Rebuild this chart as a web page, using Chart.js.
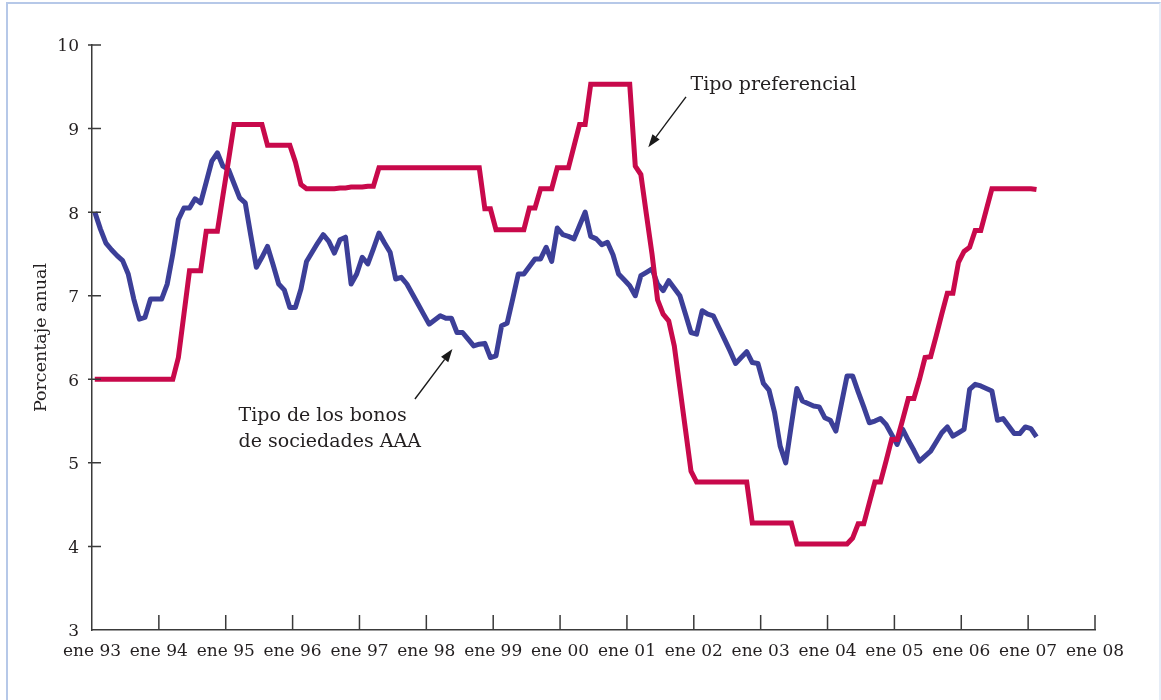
<!DOCTYPE html>
<html><head><meta charset="utf-8">
<script src="https://cdn.jsdelivr.net/npm/chart.js@4.4.1/dist/chart.umd.min.js"></script>
<style>
html,body{margin:0;padding:0;background:#fff;}
#wrap{position:relative;width:1161px;height:700px;overflow:hidden;background:#fff;}
#frame{position:absolute;left:6px;top:2px;width:1151px;height:720px;border-left:2px solid #b6c8e8;border-top:2px solid #b6c8e8;border-right:2px solid #e6edf7;box-sizing:content-box;}
canvas{position:absolute;left:0;top:0;}
</style></head>
<body><div id="wrap"><div id="frame"></div><canvas id="c" width="1161" height="700"></canvas></div>
<script>
// Tick labels of the x axis (one per January, 1993-2008)
const yearLabels = ['ene 93','ene 94','ene 95','ene 96','ene 97','ene 98','ene 99','ene 00',
                    'ene 01','ene 02','ene 03','ene 04','ene 05','ene 06','ene 07','ene 08'];
const yTicks = [3,4,5,6,7,8,9,10];

// Monthly values, Jan 1993 - Feb 2007
const primeRate = [
 6.00,6.00,6.00,6.00,6.00,6.00,6.00,6.00,6.00,6.00,6.00,6.00, // 1993
 6.00,6.00,6.00,6.26,6.78,7.30,7.30,7.30,7.77,7.77,7.77,8.20, // 1994
 8.62,9.05,9.05,9.05,9.05,9.05,9.05,8.80,8.80,8.80,8.80,8.80, // 1995
 8.60,8.33,8.28,8.28,8.28,8.28,8.28,8.28,8.29,8.29,8.30,8.30, // 1996
 8.30,8.31,8.31,8.53,8.53,8.53,8.53,8.53,8.53,8.53,8.53,8.53, // 1997
 8.53,8.53,8.53,8.53,8.53,8.53,8.53,8.53,8.53,8.53,8.04,8.04, // 1998
 7.79,7.79,7.79,7.79,7.79,7.79,8.05,8.05,8.28,8.28,8.28,8.53, // 1999
 8.53,8.53,8.79,9.05,9.05,9.53,9.53,9.53,9.53,9.53,9.53,9.53, // 2000
 9.53,8.55,8.45,7.97,7.50,6.95,6.78,6.70,6.40,5.90,5.40,4.90, // 2001
 4.77,4.77,4.77,4.77,4.77,4.77,4.77,4.77,4.77,4.77,4.28,4.28, // 2002
 4.28,4.28,4.28,4.28,4.28,4.28,4.03,4.03,4.03,4.03,4.03,4.03, // 2003
 4.03,4.03,4.03,4.03,4.10,4.27,4.27,4.52,4.77,4.77,5.02,5.28, // 2004
 5.28,5.52,5.77,5.77,6.00,6.26,6.27,6.52,6.78,7.03,7.03,7.40, // 2005
 7.53,7.58,7.78,7.78,8.03,8.28,8.28,8.28,8.28,8.28,8.28,8.28, // 2006
 8.28,8.27                                                    // 2007
];
const aaaBondRate = [
 8.00,7.80,7.63,7.55,7.48,7.42,7.26,6.96,6.72,6.74,6.96,6.96, // 1993
 6.96,7.14,7.50,7.91,8.05,8.05,8.16,8.11,8.36,8.61,8.71,8.55, // 1994
 8.51,8.34,8.17,8.11,7.72,7.34,7.46,7.59,7.37,7.14,7.07,6.86, // 1995
 6.86,7.08,7.41,7.52,7.63,7.73,7.65,7.51,7.67,7.70,7.14,7.26, // 1996
 7.46,7.38,7.56,7.75,7.63,7.52,7.20,7.22,7.14,7.02,6.90,6.78, // 1997
 6.66,6.71,6.76,6.73,6.73,6.56,6.56,6.48,6.40,6.42,6.43,6.26, // 1998
 6.28,6.64,6.67,6.96,7.26,7.26,7.35,7.44,7.44,7.58,7.41,7.81, // 1999
 7.73,7.71,7.68,7.84,8.00,7.71,7.68,7.61,7.64,7.49,7.26,7.19, // 2000
 7.12,7.00,7.24,7.28,7.32,7.14,7.06,7.18,7.09,7.00,6.78,6.56, // 2001
 6.54,6.82,6.78,6.76,6.62,6.48,6.34,6.19,6.26,6.33,6.20,6.19, // 2002
 5.95,5.87,5.60,5.20,5.00,5.45,5.89,5.74,5.71,5.68,5.67,5.54, // 2003
 5.51,5.38,5.71,6.04,6.04,5.85,5.67,5.48,5.50,5.53,5.46,5.34, // 2004
 5.22,5.40,5.27,5.15,5.02,5.08,5.14,5.25,5.36,5.43,5.32,5.36, // 2005
 5.40,5.88,5.94,5.92,5.89,5.86,5.51,5.53,5.44,5.35,5.35,5.43, // 2006
 5.41,5.31                                                    // 2007
];

// Annotations (in data coordinates: months since Jan 1993, percent)
const noteTexts = [['Tipo preferencial'], ['Tipo de los bonos', 'de sociedades AAA']];
const noteAnchors = [[107.4, 9.462], [26.29, 5.495]];
const arrowFrom = [[106.6, 9.38], [57.96, 5.764]];
const arrowTo = [[99.83, 8.776], [64.69, 6.362]];

const FONT = '"DejaVu Serif", "Liberation Serif", serif';
const TEXT = '#231f20';
const AX = '#3a3a3a';

const toPts = arr => arr.map((v, i) => ({x: i + 0.5, y: v}));

const axisTicks = {
  id: 'axisTicks',
  afterDraw(chart) {
    const {ctx} = chart; const xs = chart.scales.x, ys = chart.scales.y;
    ctx.save(); ctx.strokeStyle = AX; ctx.lineWidth = 1.5; ctx.beginPath();
    ys.ticks.forEach(t => { if (t.value === ys.min) return; const py = ys.getPixelForValue(t.value);
      ctx.moveTo(xs.left - 4, py); ctx.lineTo(xs.left + 9, py); });
    xs.ticks.forEach(t => { if (t.value === xs.min) return; const px = xs.getPixelForValue(t.value);
      ctx.moveTo(px, ys.bottom); ctx.lineTo(px, ys.bottom - 15); });
    ctx.stroke(); ctx.restore();
  }
};

const notes = {
  id: 'notes',
  afterDraw(chart) {
    const {ctx} = chart; const xs = chart.scales.x, ys = chart.scales.y;
    ctx.save();
    ctx.fillStyle = TEXT; ctx.font = '19px ' + FONT; ctx.textAlign = 'left'; ctx.textBaseline = 'alphabetic';
    noteTexts.forEach((lines, k) => {
      const px = xs.getPixelForValue(noteAnchors[k][0]), py = ys.getPixelForValue(noteAnchors[k][1]);
      lines.forEach((s, j) => ctx.fillText(s, px, py + j * 26));
    });
    ctx.strokeStyle = '#1a1a1a'; ctx.fillStyle = '#1a1a1a'; ctx.lineWidth = 1.4;
    arrowFrom.forEach((f, k) => {
      const x1 = xs.getPixelForValue(f[0]), y1 = ys.getPixelForValue(f[1]);
      const x2 = xs.getPixelForValue(arrowTo[k][0]), y2 = ys.getPixelForValue(arrowTo[k][1]);
      const a = Math.atan2(y2 - y1, x2 - x1), L = 13, W = 4.5;
      const bx = x2 - L * Math.cos(a), by = y2 - L * Math.sin(a);
      ctx.beginPath(); ctx.moveTo(x1, y1); ctx.lineTo(bx, by); ctx.stroke();
      ctx.beginPath(); ctx.moveTo(x2, y2);
      ctx.lineTo(bx + W * Math.sin(a), by - W * Math.cos(a));
      ctx.lineTo(bx - W * Math.sin(a), by + W * Math.cos(a));
      ctx.closePath(); ctx.fill();
    });
    ctx.restore();
  }
};

new Chart(document.getElementById('c').getContext('2d'), {
  type: 'line',
  data: {datasets: [
    {label: 'Tipo preferencial', data: toPts(primeRate), borderColor: '#c8094b', borderWidth: 5,
     pointRadius: 0, tension: 0, borderJoinStyle: 'miter', borderCapStyle: 'butt'},
    {label: 'Tipo de los bonos de sociedades AAA', data: toPts(aaaBondRate), borderColor: '#3c3f98', borderWidth: 5,
     pointRadius: 0, tension: 0, borderJoinStyle: 'round', borderCapStyle: 'butt'}
  ]},
  options: {
    responsive: false, animation: false, devicePixelRatio: 1,
    layout: {padding: {top: 45, right: 66, left: 0, bottom: 0}},
    plugins: {legend: {display: false}, tooltip: {enabled: false}},
    scales: {
      x: {type: 'linear', min: 0, max: 180,
          grid: {display: false}, border: {display: true, color: AX, width: 1.5},
          ticks: {stepSize: 12, autoSkip: false, maxRotation: 0, padding: 3, color: TEXT,
                  font: {family: FONT, size: 17}, callback: v => yearLabels[Math.round(v / 12)]},
          afterFit: s => { s.height = 70; }},
      y: {type: 'linear', min: yTicks[0], max: yTicks[yTicks.length - 1],
          grid: {display: false}, border: {display: true, color: AX, width: 1.5},
          ticks: {stepSize: 1, padding: 5, labelOffset: 2, color: TEXT, font: {family: FONT, size: 17}},
          title: {display: true, text: 'Porcentaje anual', color: TEXT, font: {family: FONT, size: 17.5},
                  padding: {top: 31, bottom: 0}},
          afterFit: s => { s.width = 92; }}
    }
  },
  plugins: [axisTicks, notes]
});
</script></body></html>
